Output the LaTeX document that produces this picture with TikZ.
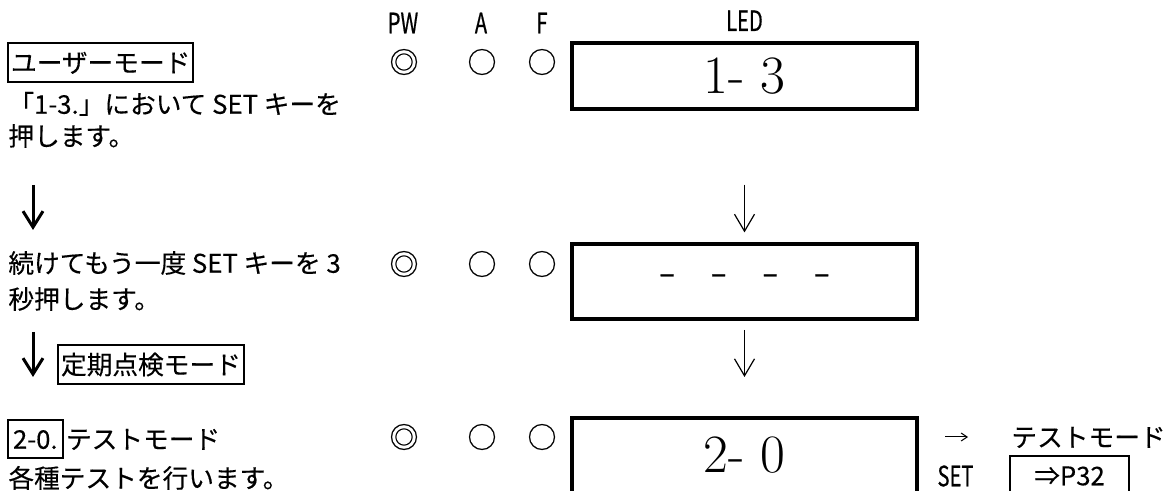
\documentclass[tikz,border=0pt]{standalone}
\usepackage{fontspec}
\usetikzlibrary{positioning,arrows.meta}
\newfontfamily\jpfont[FakeBold=0.3]{Noto Sans CJK JP}
\newfontfamily\jpnarrow[FakeStretch=0.72,FakeBold=0.5]{Noto Sans CJK JP}

\begin{document}
\begin{tikzpicture}[x=0.5pt,y=-0.5pt,every node/.style={inner sep=0pt},
  text node/.style={anchor=west,font=\jpfont\fontsize{12.85pt}{15pt}\selectfont,text height=11.3pt,text depth=1.55pt},
  tag node/.style={text node,draw,line width=1pt,inner xsep=1.5pt,inner ysep=3.3pt},
  head node/.style={font=\jpnarrow\fontsize{14pt}{16pt}\selectfont},
  lamp node/.style={font=\jpfont\fontsize{14.5pt}{16pt}\selectfont},
  led node/.style={draw,line width=1.6pt,minimum width=172.5pt,font=\fontsize{27pt}{30pt}\selectfont},
  ref node/.style={draw,line width=1pt,minimum width=59.5pt,minimum height=20pt,font=\jpfont\fontsize{12.85pt}{15pt}\selectfont}]

            \useasboundingbox (0,0) rectangle (1173,491);
            \clip (0,0) rectangle (1173,491);

            % column heads
            \node[head node] (pw) at (403,23) {PW};
            \node[head node] (a) at (481,23) {A};
            \node[head node] (f) at (542,23) {F};

            % LED boxes
            \node[led node, minimum height=33pt] (led1) at (744.5,76) {1- 3};
            \node[led node, minimum height=37.5pt] (led2) at (744.5,281.5) {};
            \node[lamp node] (dashes) at (744.5,279) {–\hspace{18pt}–\hspace{18pt}–\hspace{18pt}–};
            \node[led node, minimum height=45pt, text depth=8pt] (led3) at (744.5,463) {2- 0};
            \node[head node] (led) [above=5pt of led1] {LED};

            % lamps
            \node[lamp node] (pw1) at (404,62) {◎};
            \node[lamp node] (a1) at (482,62) {○};
            \node[lamp node] (f1) at (542,62) {○};
            \node[lamp node] (pw2) at (404,264) {◎};
            \node[lamp node] (a2) at (482,264) {○};
            \node[lamp node] (f2) at (542,264) {○};
            \node[lamp node] (pw3) at (404,437) {◎};
            \node[lamp node] (a3) at (482,437) {○};
            \node[lamp node] (f3) at (542,437) {○};

            % left column
            \node[tag node] (user) at (7,62.5) {ユーザーモード};
            \node[text node] (s1a) at (8,104) {「1-3.」において SET キーを};
            \node[text node] (s1b) at (8,136) {押します。};
            \node[text node] (s2a) at (8,263) {続けてもう一度 SET キーを 3};
            \node[text node] (s2b) at (8,299) {秒押します。};
            \node[tag node] (check) at (57,364.5) {定期点検モード};
            \node[tag node, inner xsep=2.5pt] (t20) at (7,439) {2-0.};
            \node[text node] (t20txt) [right=1pt of t20] {テストモード};
            \node[text node] (s3b) at (8,478) {各種テストを行います。};

            % right column
            \node[text node] (tm) at (1011,437) {テストモード};
            \node[head node] (set) at (955.5,476) {SET};
            \node[ref node] (p32) at (1069.5,476) {⇒P32};

            \coordinate (d1) at (33,185);
            \coordinate (d2) at (33,230);
            \coordinate (d3) at (33,332);
            \coordinate (d4) at (33,377);

            \draw[-{Straight Barb[length=8pt,width=10pt]}, line width=1.5pt] (d1) to (d2);
            \draw[-{Straight Barb[length=8pt,width=10pt]}, line width=1.5pt] (d3) to (d4);
            \draw[-{Straight Barb[length=8.5pt,width=10pt]}, line width=0.6pt, shorten <=37pt, shorten >=5pt] (led1) to (led2);
            \draw[-{Straight Barb[length=8.5pt,width=10pt]}, line width=0.6pt, shorten <=4.7pt, shorten >=19.7pt] (led2) to (led3);
            \draw[-{Straight Barb[length=3pt,width=4pt]}, line width=0.5pt, shorten <=13.2pt, shorten >=21.5pt] (led3.east |- tm) to (tm.west);

            ;
        \end{tikzpicture}
\end{document}
